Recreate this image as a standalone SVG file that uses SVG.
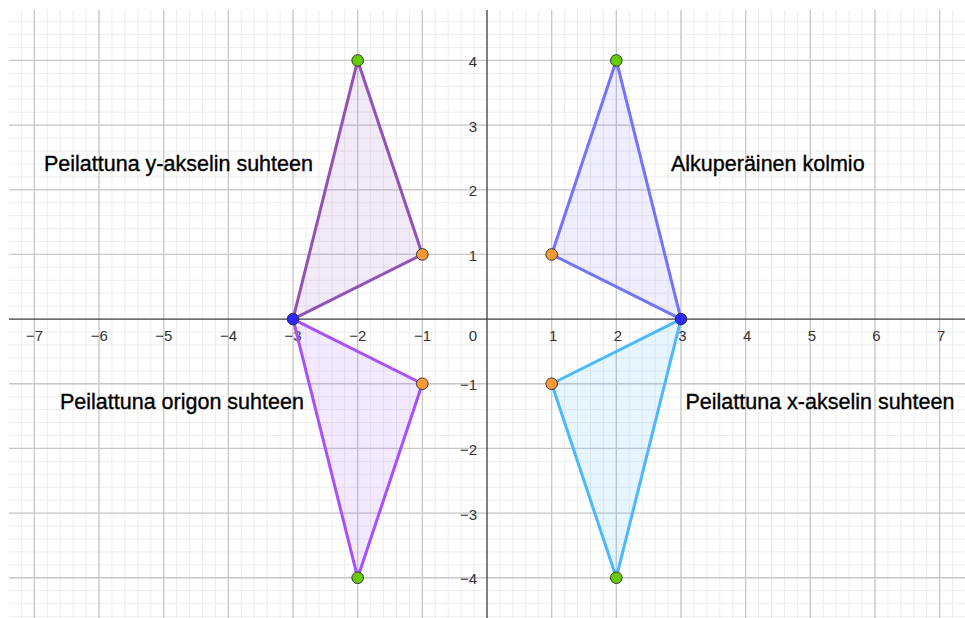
<svg xmlns="http://www.w3.org/2000/svg" width="965" height="618" viewBox="0 0 965 618">
<style>
.major{stroke:#c8c8c8;stroke-width:1.3;fill:none}
.axis{stroke:#404040;stroke-width:1.3;fill:none}
.tick{font-family:"Liberation Sans",Arial,sans-serif;font-size:15px;fill:#333}
.lbl{font-family:"Liberation Sans",Arial,sans-serif;font-size:21.5px;fill:#000;stroke:#000;stroke-width:0.35}
.tri{stroke-width:3;stroke-linejoin:round}
.pt{stroke:#333;stroke-width:1}
.g{fill:#66cc00}.o{fill:#ff9933}.b{fill:#2a2aff}
</style>
<defs>
<pattern id="minor" patternUnits="userSpaceOnUse" x="480.534" y="312.634" width="12.932" height="12.932">
<path d="M6.466 0V12.932M0 6.466H12.932" stroke="#ededed" stroke-width="1" fill="none"/>
</pattern>
</defs>
<rect width="965" height="618" fill="#fff"/>
<g id="grid">
<rect x="9" y="10" width="956" height="608" fill="url(#minor)"/>
<path class="major" d="M34.38 10V618M99.04 10V618M163.7 10V618M228.36 10V618M293.02 10V618M357.68 10V618M422.34 10V618M551.66 10V618M616.32 10V618M680.98 10V618M745.64 10V618M810.3 10V618M874.96 10V618M939.62 10V618M9 60.46H965M9 125.12H965M9 189.78H965M9 254.44H965M9 383.76H965M9 448.42H965M9 513.08H965M9 577.74H965"/>
</g>
<g id="axes">
<path class="axis" d="M9 319.1H965M487 10V618"/>
<g class="tick" text-anchor="end">
<text x="43.2" y="341">−7</text>
<text x="107.8" y="341">−6</text>
<text x="172.4" y="341">−5</text>
<text x="237.1" y="341">−4</text>
<text x="301.7" y="341">−3</text>
<text x="366.4" y="341">−2</text>
<text x="431" y="341">−1</text>
<text x="477" y="341">0</text>
<text x="477" y="66.96">4</text>
<text x="477" y="131.62">3</text>
<text x="477" y="196.28">2</text>
<text x="477" y="260.94">1</text>
<text x="477" y="390.26">−1</text>
<text x="477" y="454.92">−2</text>
<text x="477" y="519.58">−3</text>
<text x="477" y="584.24">−4</text>
</g>
<g class="tick" text-anchor="middle">
<text x="553.2" y="341">1</text>
<text x="617.8" y="341">2</text>
<text x="682.5" y="341">3</text>
<text x="747.1" y="341">4</text>
<text x="811.8" y="341">5</text>
<text x="876.5" y="341">6</text>
<text x="941.1" y="341">7</text>
</g>
</g>
<g id="connectors">
<polygon id="tri-original" class="tri" points="551.66,254.44 680.98,319.1 616.32,60.46" fill="#7373ff" fill-opacity="0.12" stroke="#7373ff"/>
<polygon id="tri-yaxis" class="tri" points="422.34,254.44 293.02,319.1 357.68,60.46" fill="#9b4fc0" fill-opacity="0.12" stroke="#9352b8"/>
<polygon id="tri-origin" class="tri" points="422.34,383.76 293.02,319.1 357.68,577.74" fill="#a650ff" fill-opacity="0.12" stroke="#a850ff"/>
<polygon id="tri-xaxis" class="tri" points="551.66,383.76 680.98,319.1 616.32,577.74" fill="#4db8ff" fill-opacity="0.14" stroke="#4db8ff"/>
</g>
<g id="points">
<circle class="pt g" cx="616.32" cy="60.46" r="5.8"/>
<circle class="pt g" cx="357.68" cy="60.46" r="5.8"/>
<circle class="pt g" cx="357.68" cy="577.74" r="5.8"/>
<circle class="pt g" cx="616.32" cy="577.74" r="5.8"/>
<circle class="pt o" cx="551.66" cy="254.44" r="5.8"/>
<circle class="pt o" cx="422.34" cy="254.44" r="5.8"/>
<circle class="pt o" cx="422.34" cy="383.76" r="5.8"/>
<circle class="pt o" cx="551.66" cy="383.76" r="5.8"/>
<circle class="pt b" cx="680.98" cy="319.1" r="5.8"/>
<circle class="pt b" cx="293.02" cy="319.1" r="5.8"/>
</g>
<g id="label-yaxis"><text class="lbl" x="44" y="171">Peilattuna y-akselin suhteen</text></g>
<g id="label-original"><text class="lbl" x="671" y="171">Alkuperäinen kolmio</text></g>
<g id="label-origin"><text class="lbl" x="60" y="408.5">Peilattuna origon suhteen</text></g>
<g id="label-xaxis"><text class="lbl" x="685.5" y="408.5">Peilattuna x-akselin suhteen</text></g>
</svg>
